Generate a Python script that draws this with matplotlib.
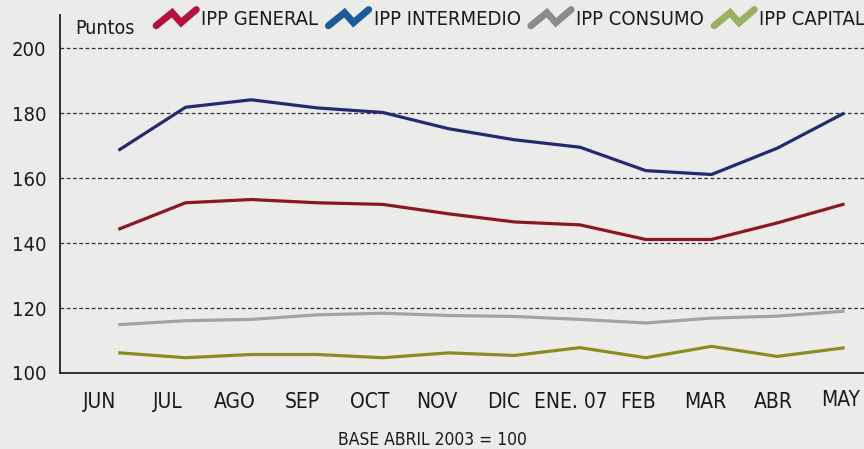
import numpy as np
import matplotlib
matplotlib.use("Agg")
import matplotlib.pyplot as plt
from matplotlib.lines import Line2D
from matplotlib.legend_handler import HandlerBase

plt.rcParams['font.family'] = ['DejaVu Sans']
plt.rcParams['font.stretch'] = 'condensed'

# datos
meses = ['JUN', 'JUL', 'AGO', 'SEP', 'OCT', 'NOV', 'DIC', 'ENE. 07', 'FEB', 'MAR', 'ABR', 'MAY']
ipp_general = [144.4, 152.4, 153.4, 152.4, 151.9, 149.0, 146.5, 145.6, 141.1, 141.1, 146.2, 151.9]
ipp_intermedio = [168.8, 181.8, 184.1, 181.6, 180.2, 175.2, 171.8, 169.5, 162.3, 161.1, 169.2, 179.8]
ipp_consumo = [114.9, 116.1, 116.5, 117.9, 118.4, 117.7, 117.4, 116.5, 115.4, 116.9, 117.5, 119.0]
ipp_capital = [106.2, 104.7, 105.7, 105.7, 104.7, 106.2, 105.4, 107.8, 104.7, 108.2, 105.1, 107.7]

series = [
    ('IPP GENERAL', ipp_general, '#8a1820', '#b3123e'),
    ('IPP INTERMEDIO', ipp_intermedio, '#232a70', '#1b5a98'),
    ('IPP CONSUMO', ipp_consumo, '#a3a3a3', '#8c8c8c'),
    ('IPP CAPITAL', ipp_capital, '#8c8a22', '#9bb062'),
]


class ZigZag(HandlerBase):
    # icono en zigzag de la leyenda
    def create_artists(self, legend, orig, xd, yd, w, h, fontsize, trans):
        x0, y0 = -xd, -yd
        xs = x0 + w * np.array([0.0, 0.4, 0.62, 1.0])
        ys = y0 + h * np.array([0.0, 0.85, 0.2, 1.05])
        ln = Line2D(xs, ys, color=orig.get_color(), lw=5,
                    solid_capstyle='round', solid_joinstyle='miter')
        ln.set_transform(trans)
        return [ln]


fig = plt.figure(figsize=(8.64, 4.49), dpi=100, facecolor='#ebebe9')
ax = fig.add_axes([60 / 864, 76 / 449, 804 / 864, 358 / 449])
ax.set_facecolor('none')

x = np.arange(len(meses))
for nombre, vals, col, _ in series:
    ax.plot(x, vals, color=col, lw=2.3, solid_joinstyle='round')

ax.set_ylim(100, 210.2)
ax.set_xlim(-0.91, 11.32)
ax.set_yticks([100, 120, 140, 160, 180, 200])
for v in [120, 140, 160, 180, 200]:
    ax.axhline(v, color='#333333', lw=0.9, dashes=(3, 2), zorder=0)

# etiquetas del eje x algo desplazadas, como en el original
pos_lab = np.linspace(-0.30, 10.96, len(meses))
ax.set_xticks(pos_lab)
ax.set_xticklabels(meses, fontsize=15)
ax.tick_params(axis='both', length=0, colors='#1a1a1a')
ax.tick_params(axis='y', labelsize=14.5, pad=10)
ax.tick_params(axis='x', pad=14)
ax.get_xticklabels()[-1].set_y(0.006)

for s in ['top', 'right']:
    ax.spines[s].set_visible(False)
for s in ['left', 'bottom']:
    ax.spines[s].set_color('#222222')
    ax.spines[s].set_linewidth(1.3)

handles = [Line2D([], [], color=ic) for _, _, _, ic in series]
labels = [n for n, _, _, _ in series]
fig.legend(handles, labels, handler_map={Line2D: ZigZag()}, loc='upper left',
           bbox_to_anchor=(148 / 864, 1 - 2 / 449), ncol=4, frameon=False,
           fontsize=14.5, handlelength=2.0, handleheight=0.8, handletextpad=0.25,
           columnspacing=0.5, borderaxespad=0, labelcolor='#1a1a1a')

fig.text(75 / 864, 1 - 29 / 449, 'Puntos', fontsize=14, color='#1a1a1a', va='center')
fig.text(432 / 864, 1 - 440 / 449, 'BASE ABRIL 2003 = 100', fontsize=12.5,
         color='#1a1a1a', ha='center', va='center')

fig.savefig('out.png', dpi=100, facecolor=fig.get_facecolor())
